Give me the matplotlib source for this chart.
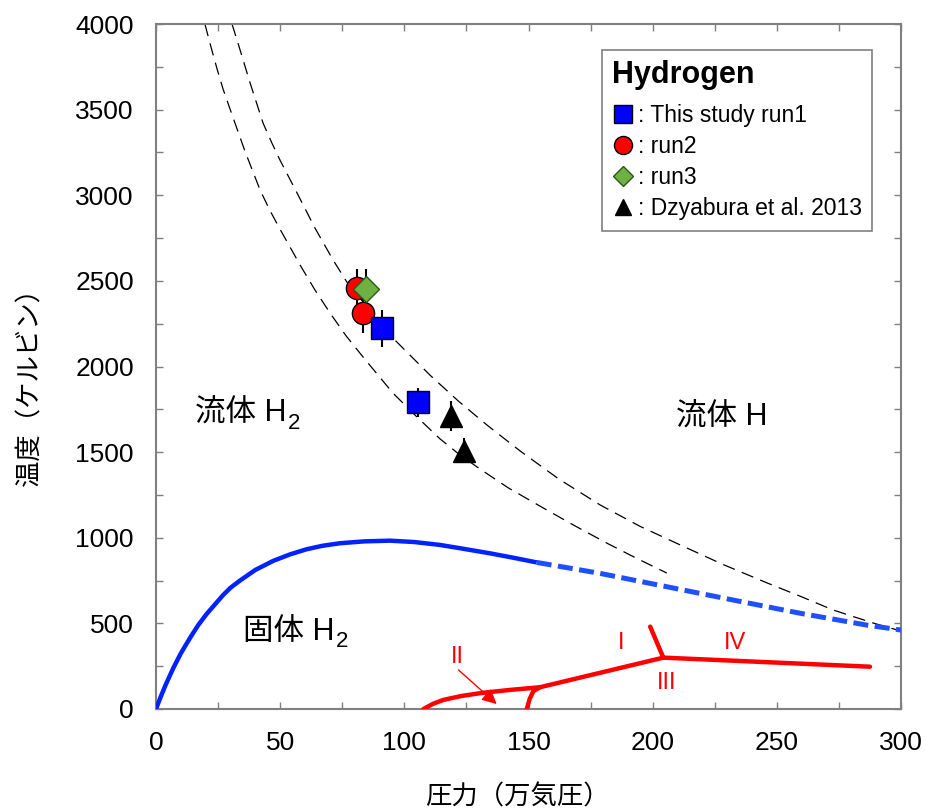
import matplotlib
matplotlib.use('Agg')
import matplotlib.pyplot as plt
from matplotlib.lines import Line2D
from matplotlib.ticker import MultipleLocator

plt.rcParams['font.family'] = ['Liberation Sans', 'Noto Sans CJK JP']

# dashed boundary curves
upper_P = [30.6, 33.0, 35.5, 37.9, 43.1, 46.5, 49.9, 56.8, 64.0, 71.3, 77.0, 83.4,
           89.0, 95.4, 110.3, 122.0, 133.3, 146.6, 162.0, 178.9, 195.0, 211.1,
           228.0, 246.1, 260.0, 272.7, 288.8, 300]
upper_T = [4000, 3889, 3770, 3655, 3422, 3310, 3206, 3013, 2809, 2622, 2490, 2377,
           2268, 2166, 1950, 1795, 1658, 1507, 1345, 1191, 1066, 958,
           846, 736, 655, 578, 502, 455]
lower_P = [19.7, 21.7, 24.6, 27.0, 29.8, 35.8, 41.9, 45.8, 49.9, 58.0, 64.0, 70.1,
           76.5, 83.4, 95.4, 105.1, 114.4, 122.0, 130.5, 142.0, 154.6, 168.0,
           181.5, 193.5, 205.7]
lower_T = [4000, 3889, 3737, 3620, 3504, 3258, 3031, 2913, 2803, 2593, 2447, 2312,
           2180, 2055, 1845, 1705, 1577, 1488, 1401, 1290, 1185, 1075,
           969, 880, 794]

# melting line of solid H2
melt_P = [0, 2, 4, 7, 10, 13.7, 17, 20.4, 24, 27, 30, 33.8, 40, 47.2, 54, 60.7,
          67, 74.1, 84, 94.2, 104, 114.4, 124, 134.5, 144, 153.3]
melt_T = [0, 75, 145, 240, 325, 415, 490, 555, 615, 665, 708, 750, 812, 865, 903,
          933, 953, 968, 979, 983, 975, 958, 935, 909, 883, 856]
melt_ext_P = [153.3, 178.8, 205.7, 232.5, 259.4, 286.2, 300]
melt_ext_T = [856, 792, 714, 636, 559, 490, 461]

# solid phase boundaries (red)
main_P = [107.7, 111.5, 115.7, 123.0, 131.8, 143.0, 154.6, 204.3]
main_T = [0, 30, 53, 76, 95, 112, 127, 300]
iv_P = [204.3, 287.5]
iv_T = [300, 247]
i_P = [199.0, 204.3]
i_T = [481, 300]
iii_P = [149.3, 150.5, 152.0, 154.6]
iii_T = [0, 60, 105, 127]

# measurements
run1_P = [91.1, 105.6]
run1_T = [2223, 1792]
run1_err = [108, 85]
run2_P = [80.8, 83.3]
run2_T = [2457, 2315]
run2_err = [112, 118]
run3_P = [84.6]
run3_T = [2451]
run3_err = [116]
dzy_P = [118.6, 124.0]
dzy_T = [1712, 1508]
dzy_err = [88, 72]

fig = plt.figure(figsize=(9.25, 8.09), dpi=100)
ax = fig.add_axes([156 / 925, 100 / 809, 745 / 925, 685 / 809])

ax.plot(upper_P, upper_T, color='k', lw=0.9, dashes=(10, 6), zorder=2)
ax.plot(lower_P, lower_T, color='k', lw=0.9, dashes=(10, 6), zorder=2)

ax.plot(melt_P, melt_T, color='#0022ff', lw=3.2, solid_capstyle='butt',
        solid_joinstyle='round', zorder=3)
ax.plot(melt_ext_P, melt_ext_T, color='#1f4fff', lw=3.6, dashes=(3, 1.3), zorder=3)

red = '#ff0000'
for px, ty in [(main_P, main_T), (iv_P, iv_T), (i_P, i_T), (iii_P, iii_T)]:
    ax.plot(px, ty, color=red, lw=3.2, solid_capstyle='round', zorder=3)

ax.annotate('', xy=(137.2, 29), xytext=(121.8, 228),
            arrowprops=dict(arrowstyle='-|>', color=red, lw=1,
                            mutation_scale=22, shrinkA=0, shrinkB=0), zorder=4)

ax.text(121.5, 304, 'II', color=red, fontsize=17, ha='center', va='center')
ax.text(187.5, 385, 'I', color=red, fontsize=17, ha='center', va='center')
ax.text(233, 385, 'IV', color=red, fontsize=17, ha='center', va='center')
ax.text(205.7, 150, 'III', color=red, fontsize=17, ha='center', va='center')


def phase_label(x, y, s, sub=None):
    t = ax.text(x, y, s, fontsize=22, ha='left', va='center')
    if sub:
        ax.annotate(sub, xy=(1, 0), xycoords=t, xytext=(1, -4),
                    textcoords='offset points', ha='left', va='bottom',
                    fontsize=16)
    return t


phase_label(15.7, 1725, '流体 H', '2')
phase_label(35.0, 452, '固体 H', '2')
ax.text(228, 1700, '流体 H', fontsize=22, ha='center', va='center')

eb = dict(fmt='none', ecolor='k', elinewidth=1.5, capsize=0, zorder=5)
ax.errorbar(run2_P, run2_T, yerr=run2_err, **eb)
ax.errorbar(run3_P, run3_T, yerr=run3_err, **eb)
ax.errorbar(run1_P, run1_T, yerr=run1_err, **eb)
ax.errorbar(dzy_P, dzy_T, yerr=dzy_err, **eb)

ax.plot(run2_P, run2_T, 'o', ms=16, mfc=red, mec='k', mew=1, zorder=6)
ax.plot(run3_P, run3_T, 'D', ms=13, mfc='#6fb043', mec='#2a5a1a', mew=1, zorder=7)
ax.plot(run1_P, run1_T, 's', ms=16, mfc='#0000ff', mec='k', mew=1, zorder=6)
ax.plot(dzy_P, dzy_T, '^', ms=16, mfc='k', mec='k', mew=1, zorder=6)

ax.set_xlim(0, 300)
ax.set_ylim(0, 4000)
ax.xaxis.set_major_locator(MultipleLocator(50))
ax.xaxis.set_minor_locator(MultipleLocator(25))
ax.yaxis.set_major_locator(MultipleLocator(500))
ax.yaxis.set_minor_locator(MultipleLocator(250))
ax.tick_params(which='both', direction='in', top=True, right=True,
               length=5, width=1, color='#808080', labelsize=19, pad=16)
for s in ax.spines.values():
    s.set_color('#808080')
    s.set_linewidth(1.5)

ax.set_xlabel('圧力（万気圧）', fontsize=19)
ax.set_ylabel('温度（ケルビン）', fontsize=19)
ax.xaxis.set_label_coords(0.485, -0.11)
ax.yaxis.set_label_coords(-0.152, 0.48)

handles = [
    Line2D([], [], ls='none', marker='s', ms=13, mfc='#0000ff', mec='k', mew=1),
    Line2D([], [], ls='none', marker='o', ms=13, mfc=red, mec='k', mew=1),
    Line2D([], [], ls='none', marker='D', ms=10, mfc='#6fb043', mec='#2a5a1a', mew=1),
    Line2D([], [], ls='none', marker='^', ms=12, mfc='k', mec='k', mew=1),
]
labels = [': This study run1', ': run2', ': run3', ': Dzyabura et al. 2013']
leg = ax.legend(handles, labels, title='Hydrogen', alignment='left',
                title_fontproperties={'weight': 'bold', 'size': 22},
                fontsize=16.5, loc='upper right',
                bbox_to_anchor=(872 / 925, 759 / 809),
                bbox_transform=fig.transFigure, borderaxespad=0,
                handlelength=0.9, handletextpad=0.2, labelspacing=0.35,
                borderpad=0.45, fancybox=False, framealpha=1,
                edgecolor='#808080')
leg.get_frame().set_linewidth(1.2)
leg._legend_box.sep = 10

fig.savefig('out.png', dpi=100)
